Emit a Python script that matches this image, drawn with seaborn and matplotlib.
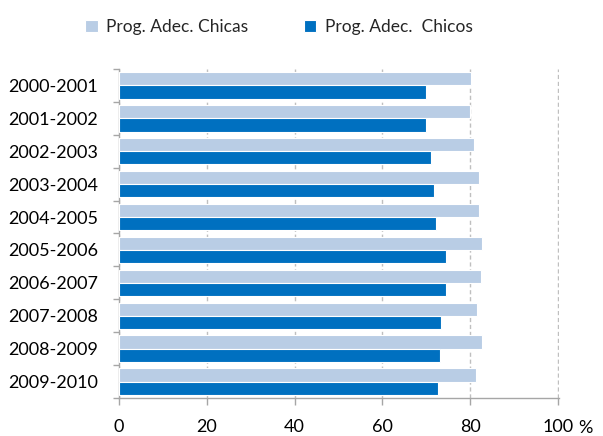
import pandas as pd
import seaborn as sns
import matplotlib.pyplot as plt
from matplotlib.ticker import FixedLocator

# Data
cursos = ['2000-2001', '2001-2002', '2002-2003', '2003-2004', '2004-2005',
          '2005-2006', '2006-2007', '2007-2008', '2008-2009', '2009-2010']
chicas = [80.2, 80.0, 80.8, 81.9, 81.9, 82.7, 82.4, 81.6, 82.7, 81.3]
chicos = [69.9, 69.9, 71.1, 71.8, 72.3, 74.5, 74.5, 73.4, 73.0, 72.6]
series = ['Prog. Adec. Chicas', 'Prog. Adec.  Chicos']
xticks = [0, 20, 40, 60, 80, 100]

data = pd.DataFrame({
    'curso': cursos * 2,
    'valor': chicas + chicos,
    'serie': [series[0]] * len(cursos) + [series[1]] * len(cursos),
})

sns.set_style('white')
plt.rcParams['font.family'] = ['Lato', 'DejaVu Sans']

fig = plt.figure(figsize=(6.03, 4.36), dpi=100)
ax = fig.add_axes([119 / 603, 1 - 398 / 436, 440 / 603, 329 / 436])

sns.barplot(data=data, y='curso', x='valor', hue='serie', orient='h',
            palette=['#B9CDE5', '#0070C0'], saturation=1, width=0.8, dodge=True,
            edgecolor='white', linewidth=0.8, ax=ax, zorder=3)

ax.set_xlim(0, 100.2)
ax.set_ylim(len(cursos) - 0.5, -0.5)
ax.set_xlabel('')
ax.set_ylabel('')

# dashed vertical gridlines
ax.set_xticks(xticks)
ax.set_xticklabels([str(t) for t in xticks])
ax.grid(axis='x', color='#BFBFBF', linestyle=(0, (3, 2)), linewidth=1, zorder=0)
ax.grid(axis='y', visible=False)
ax.set_axisbelow(True)

# spines
for s in ['top', 'right']:
    ax.spines[s].set_visible(False)
for s in ['left', 'bottom']:
    ax.spines[s].set_color('#A6A6A6')
    ax.spines[s].set_linewidth(1)

# ticks: y ticks at category boundaries
ax.tick_params(axis='y', which='major', length=0, pad=15, labelsize=13, labelcolor='black')
ax.yaxis.set_minor_locator(FixedLocator([i - 0.5 for i in range(len(cursos) + 1)]))
ax.tick_params(axis='y', which='minor', length=4, color='#A6A6A6', width=1, left=True)
ax.tick_params(axis='x', which='major', length=5, color='#A6A6A6', width=1,
               bottom=True, pad=10, labelsize=13, labelcolor='black')

ax.text(1.06, -0.09, '%', transform=ax.transAxes, ha='center', va='center',
        fontsize=13, color='black')

# legend on top
handles, labels = ax.get_legend_handles_labels()
ax.legend(handles, labels, loc='center', bbox_to_anchor=(0.5 - 60 / 440, 1 + 42 / 329),
          ncol=2, frameon=False, fontsize=12.5, handlelength=0.7, handleheight=0.7,
          handletextpad=0.5, columnspacing=3.2)

plt.savefig('out.png', dpi=100)
